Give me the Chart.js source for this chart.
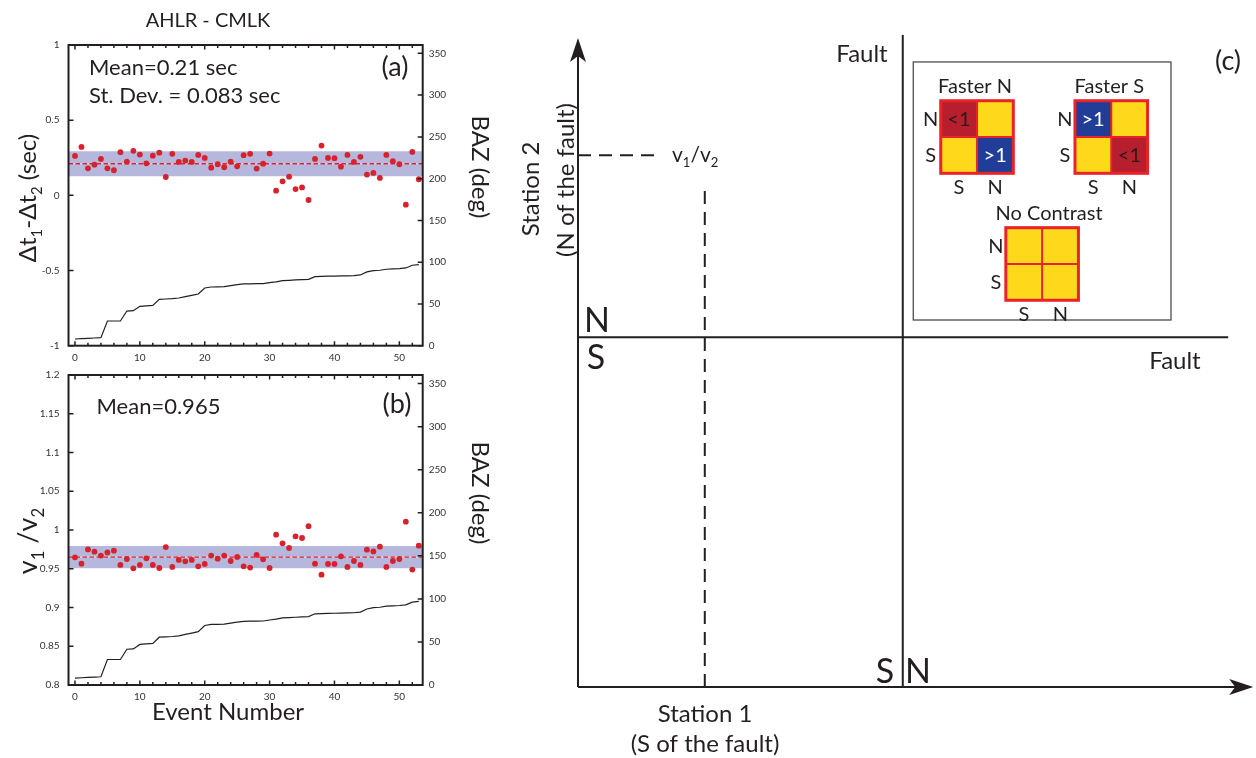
<!DOCTYPE html>
<html><head><meta charset="utf-8">
<script src="https://cdn.jsdelivr.net/npm/chart.js@4.4.1/dist/chart.umd.min.js"></script>
<style>
html,body{margin:0;padding:0;background:#fff;width:1256px;height:758px;overflow:hidden;}
canvas{position:absolute;}
#ca{left:0;top:0;}
#cb{left:0;top:360px;}
#cc{left:500px;top:0;}
</style></head><body>
<canvas id="cc" width="756" height="758"></canvas>
<canvas id="ca" width="560" height="370"></canvas>
<canvas id="cb" width="560" height="398"></canvas>
<script>
// ---------------- data ----------------
const eventNumbers = [0,1,2,3,4,5,6,7,8,9,10,11,12,13,14,15,16,17,18,19,20,21,22,23,24,25,26,
  27,28,29,30,31,32,33,34,35,36,37,38,39,40,41,42,43,44,45,46,47,48,49,50,51,52,53];
const dtDiff = [0.262,0.322,0.180,0.204,0.242,0.180,0.167,0.287,0.224,0.296,
  0.271,0.213,0.264,0.284,0.122,0.276,0.222,0.231,0.222,0.269,
  0.249,0.184,0.207,0.187,0.224,0.193,0.267,0.276,0.178,0.211,
  0.278,0.031,0.093,0.124,0.042,0.053,-0.031,0.242,0.331,0.249,
  0.247,0.191,0.269,0.222,0.256,0.138,0.149,0.116,0.269,0.227,
  0.207,-0.062,0.289,0.107];
const velRatio = [0.9647,0.9566,0.975,0.972,0.967,0.971,0.9733,0.955,0.9626,0.9506,
  0.955,0.9634,0.955,0.951,0.978,0.9523,0.9614,0.9596,0.9614,0.9531,
  0.9562,0.967,0.963,0.967,0.960,0.9652,0.9531,0.9515,0.968,0.9622,
  0.951,0.994,0.9828,0.9768,0.9918,0.9897,1.005,0.9566,0.9424,0.9562,
  0.9562,0.966,0.9523,0.960,0.955,0.9746,0.9724,0.9785,0.9523,0.960,
  0.9626,1.0107,0.9489,0.9798];
const baz = [8.0,8.4,8.8,9.2,9.6,29.6,29.6,29.6,41.5,41.9,
  47.1,47.7,48.3,55.5,55.9,56.3,57.1,58.7,60.3,61.9,
  69.1,70.3,70.5,70.7,71.9,73.1,73.9,74.1,74.2,74.3,
  75.5,76.5,77.9,78.3,78.7,79.1,79.5,82.7,83.0,83.2,
  83.3,83.5,83.7,83.9,84.7,88.3,89.9,90.3,91.5,91.9,
  92.3,93.1,96.3,97.1];
const dtStats = [0.21, 0.083];      // mean, st. dev.
const ratioStats = [0.965, 0.0145]; // mean, spread
const dtTicks = [-1, -0.5, 0, 0.5, 1];
const ratioTicks = [0.8, 0.85, 0.9, 0.95, 1, 1.05, 1.1, 1.15, 1.2];
const bazTicks = [0, 50, 100, 150, 200, 250, 300, 350];
const eventTicks = [0, 10, 20, 30, 40, 50];
const eventMinorTicks = [0,2,4,6,8,10,12,14,16,18,20,22,24,26,28,30,32,34,36,38,40,42,44,46,48,50,52];

// diagram (panel c) in schematic units
const station1Axis = [[0,0],[99.0,0]];
const station2Axis = [[0,0],[0,93.9]];
const faultVertical = [[47.9,0],[47.9,94.9]];
const faultHorizontal = [[0,50.9],[95.9,50.9]];
const ratioGuideH = [[0,77.4],[12.1,77.4]];
const ratioGuideV = [[18.7,0],[18.7,73.1]];
const fasterN = [['lt','eq'],['eq','gt']];
const fasterS = [['gt','eq'],['eq','lt']];
const noContrast = [['eq','eq'],['eq','eq']];

// ---------------- helpers ----------------
Chart.defaults.font.family = 'Lato, "Open Sans", sans-serif';
const INK = '#231f20';
function drawRich(ctx, parts, x, y, size, align, rot, color) {
  ctx.save();
  ctx.translate(x, y); ctx.rotate(rot || 0);
  ctx.fillStyle = color || INK; ctx.textBaseline = 'alphabetic'; ctx.textAlign = 'left';
  const sub = size * 0.62;
  let total = 0;
  const ws = parts.map(p => { ctx.font = (p.s ? sub : size) + 'px Lato, "Open Sans", sans-serif'; const w = ctx.measureText(p.t).width; total += w; return w; });
  let cx = align === 'center' ? -total / 2 : (align === 'right' ? -total : 0);
  parts.forEach((p, i) => { ctx.font = (p.s ? sub : size) + 'px Lato, "Open Sans", sans-serif'; ctx.fillText(p.t, cx, p.s ? size * 0.26 : 0); cx += ws[i]; });
  ctx.restore();
}
function textPlugin(items, ox, oy) {
  return { id: 'txt', afterDraw(chart) {
    const ctx = chart.ctx;
    items.forEach(it => drawRich(ctx, it.p || [{t: it.t}], it.x - ox, it.y - oy, it.size, it.align || 'left', it.rot || 0, it.color));
  }};
}
const framePlugin = {
  id: 'frame',
  afterDraw(chart) {
    const {ctx, chartArea: a, scales: {x, y, y2}} = chart;
    ctx.save();
    ctx.strokeStyle = INK; ctx.lineWidth = 1.5;
    ctx.beginPath();
    x.ticks.forEach(t => {
      const v = t.value;
      const px = x.getPixelForValue(v);
      const L = eventTicks.includes(v) ? 4.5 : 3;
      ctx.moveTo(px, a.bottom); ctx.lineTo(px, a.bottom - L);
      ctx.moveTo(px, a.top); ctx.lineTo(px, a.top + L);
    });
    y.ticks.forEach(t => { const py = y.getPixelForValue(t.value); ctx.moveTo(a.left, py); ctx.lineTo(a.left + 5, py); });
    y2.ticks.forEach(t => { const py = y2.getPixelForValue(t.value); ctx.moveTo(a.right, py); ctx.lineTo(a.right - 5, py); });
    ctx.stroke();
    ctx.lineWidth = 2;
    ctx.strokeRect(a.left, a.top, a.right - a.left, a.bottom - a.top);
    ctx.restore();
  }
};
const fmt = v => String(+(+v).toFixed(2));
const setTicks = list => (s => { s.ticks = list.map(v => ({value: v})); });

function makePanel(id, values, stats, yMin, yMax, yTicks, padTop, xH, texts, oy) {
  const [mean, sd] = stats;
  const span = d => [{x: -1, y: d}, {x: 54, y: d}];
  new Chart(document.getElementById(id), {
    type: 'scatter',
    data: { datasets: [
      { data: span(mean + sd), showLine: true, borderWidth: 0, borderColor: 'rgba(0,0,0,0)', pointRadius: 0, fill: '+1', backgroundColor: '#b5b7dd', order: 6 },
      { data: span(mean - sd), showLine: true, borderWidth: 0, borderColor: 'rgba(0,0,0,0)', pointRadius: 0, fill: false, order: 7 },
      { data: span(mean), showLine: true, borderWidth: 1, borderColor: '#dcdcf0', pointRadius: 0, order: 5 },
      { data: span(mean), showLine: true, borderWidth: 1.4, borderColor: '#e3202b', borderDash: [4.5, 2.5], pointRadius: 0, order: 4 },
      { data: eventNumbers.map((e, i) => ({x: e, y: baz[i]})), yAxisID: 'y2', showLine: true, borderColor: INK, borderWidth: 1.2, pointRadius: 0, order: 3 },
      { data: eventNumbers.map((e, i) => ({x: e, y: values[i]})), pointRadius: 2.9, pointBackgroundColor: '#d7222b', pointBorderWidth: 0, order: 1 }
    ]},
    options: {
      responsive: false, animation: false, events: [],
      layout: { padding: { top: padTop, left: 0, right: 0, bottom: 0 } },
      plugins: { legend: { display: false }, tooltip: { enabled: false } },
      scales: {
        x: { type: 'linear', position: 'bottom', min: -1, max: 53.6,
          afterFit(s) { s.height = xH; },
          afterBuildTicks: setTicks(eventMinorTicks),
          grid: { display: false, drawTicks: false }, border: { display: false },
          ticks: { autoSkip: false, maxRotation: 0, minRotation: 0, padding: 6,
            font: { size: 10 }, color: '#333',
            callback: v => eventTicks.includes(v) ? String(v) : '' } },
        y: { type: 'linear', position: 'left', min: yMin, max: yMax,
          afterFit(s) { s.width = 68.5; },
          afterBuildTicks: setTicks(yTicks),
          grid: { display: false, drawTicks: false }, border: { display: false },
          ticks: { autoSkip: false, padding: 9, font: { size: 10 }, color: '#333', callback: v => fmt(v) } },
        y2: { type: 'linear', position: 'right', min: 0, max: 360,
          afterFit(s) { s.width = 137.3; },
          afterBuildTicks: setTicks(bazTicks),
          grid: { display: false, drawTicks: false }, border: { display: false },
          ticks: { autoSkip: false, padding: 6, font: { size: 10 }, color: '#333', callback: v => String(v) } }
      }
    },
    plugins: [framePlugin, textPlugin(texts, 0, oy)]
  });
}

makePanel('ca', dtDiff, dtStats, -1, 1, dtTicks, 45, 24.3, [
  {t: 'AHLR - CMLK', x: 208, y: 27, size: 20, align: 'center'},
  {t: 'Mean=0.21 sec', x: 89, y: 75, size: 22},
  {t: 'St. Dev. = 0.083 sec', x: 89, y: 103, size: 22},
  {t: '(a)', x: 395, y: 76, size: 27, align: 'center'},
  {p: [{t: 'Δt'}, {t: '1', s: 1}, {t: '-Δt'}, {t: '2', s: 1}, {t: ' (sec)'}], x: 36, y: 198, size: 24, align: 'center', rot: -Math.PI / 2},
  {t: 'BAZ (deg)', x: 471.5, y: 167, size: 24, align: 'center', rot: Math.PI / 2}
], 0);

makePanel('cb', velRatio, ratioStats, 0.8, 1.2, ratioTicks, 13.3, 73, [
  {t: 'Mean=0.965', x: 96.5, y: 414, size: 22},
  {t: '(b)', x: 397, y: 413, size: 27, align: 'center'},
  {p: [{t: 'v'}, {t: '1', s: 1}, {t: ' /v'}, {t: '2', s: 1}], x: 37, y: 541, size: 27, align: 'center', rot: -Math.PI / 2},
  {t: 'BAZ (deg)', x: 471.5, y: 493, size: 24, align: 'center', rot: Math.PI / 2},
  {t: 'Event Number', x: 228, y: 720, size: 24, align: 'center'}
], 360);

// ---------------- panel (c) ----------------
const cellColor = {lt: '#b71f2e', gt: '#203d97', eq: '#fdd81b'};
const cellText = {lt: '<1', gt: '>1', eq: ''};
const cellInk = {lt: '#2a1a1a', gt: '#ffffff', eq: INK};
const diagramPlugin = {
  id: 'diagram',
  afterDatasetsDraw(chart) {
    const {ctx, scales: {x, y}} = chart;
    const X = v => x.getPixelForValue(v), Y = v => y.getPixelForValue(v);
    ctx.save();
    ctx.fillStyle = INK;
    // arrowheads
    const up = station2Axis[1], rt = station1Axis[1];
    let tx = X(up[0]), ty = Y(up[1]);
    ctx.beginPath(); ctx.moveTo(tx, ty - 4); ctx.lineTo(tx + 8, ty + 20); ctx.lineTo(tx, ty + 14); ctx.lineTo(tx - 8, ty + 20); ctx.closePath(); ctx.fill();
    tx = X(rt[0]); ty = Y(rt[1]);
    ctx.beginPath(); ctx.moveTo(tx + 4, ty); ctx.lineTo(tx - 20, ty - 8); ctx.lineTo(tx - 14, ty); ctx.lineTo(tx - 20, ty + 8); ctx.closePath(); ctx.fill();
    // inset box
    ctx.strokeStyle = '#4d4d4f'; ctx.lineWidth = 1.3;
    const bx0 = X(49.45), bx1 = X(87.46), by0 = Y(90.98), by1 = Y(53.42);
    ctx.strokeRect(bx0, by0, bx1 - bx0, by1 - by0);
    const grids = [[fasterN, 53.5, 85.34, 'Faster N'], [fasterS, 73.3, 85.34, 'Faster S'], [noContrast, 63.1, 66.86, 'No Contrast']];
    const c = 36.3;
    grids.forEach(([cells, gx, gy, title], gi) => {
      const px = X(gx), py = Y(gy);
      cells.forEach((row, r) => row.forEach((k, ci) => {
        ctx.fillStyle = cellColor[k];
        ctx.fillRect(px + ci * c, py + r * c, c, c);
        if (cellText[k]) drawRich(ctx, [{t: cellText[k]}], px + ci * c + c / 2, py + r * c + c / 2 + 7, 20, 'center', 0, cellInk[k]);
      }));
      ctx.strokeStyle = '#ec2229';
      ctx.lineWidth = 2;
      ctx.beginPath(); ctx.moveTo(px + c, py); ctx.lineTo(px + c, py + 2 * c); ctx.moveTo(px, py + c); ctx.lineTo(px + 2 * c, py + c); ctx.stroke();
      ctx.lineWidth = 3;
      ctx.strokeRect(px, py, 2 * c, 2 * c);
      drawRich(ctx, [{t: title}], px + c + (gi === 2 ? 7 : -2), py - 8, 20, 'center', 0, INK);
      drawRich(ctx, [{t: 'N'}], px - 10, py + c / 2 + 7, 20, 'center', 0, INK);
      drawRich(ctx, [{t: 'S'}], px - 10, py + 1.5 * c + 7, 20, 'center', 0, INK);
      drawRich(ctx, [{t: 'S'}], px + c / 2, py + 2 * c + 21, 20, 'center', 0, INK);
      drawRich(ctx, [{t: 'N'}], px + 1.5 * c, py + 2 * c + 21, 20, 'center', 0, INK);
    });
    ctx.restore();
  }
};
const lineDS = (pts, dash) => ({ data: pts.map(([a, b]) => ({x: a, y: b})), showLine: true, borderColor: INK, borderWidth: 2,
  borderDash: dash || [], pointRadius: 0, fill: false, clip: false, tension: 0 });
new Chart(document.getElementById('cc'), {
  type: 'scatter',
  data: { datasets: [
    lineDS(station1Axis), lineDS(station2Axis), lineDS(faultVertical), lineDS(faultHorizontal),
    lineDS(ratioGuideH, [13, 8]), lineDS(ratioGuideV, [13, 8])
  ]},
  options: {
    responsive: false, animation: false, events: [],
    layout: { padding: { left: 78, right: 0, top: 0, bottom: 71 } },
    plugins: { legend: { display: false }, tooltip: { enabled: false } },
    scales: { x: { type: 'linear', min: 0, max: 100, display: false }, y: { type: 'linear', min: 0, max: 100, display: false } }
  },
  plugins: [diagramPlugin, textPlugin([
    {t: 'Fault', x: 862, y: 62, size: 24, align: 'center'},
    {t: 'Fault', x: 1175, y: 369, size: 24, align: 'center'},
    {t: '(c)', x: 1228, y: 70, size: 27, align: 'center'},
    {t: 'N', x: 597, y: 332, size: 34, align: 'center'},
    {t: 'S', x: 596, y: 369, size: 34, align: 'center'},
    {t: 'S', x: 885, y: 683, size: 34, align: 'center'},
    {t: 'N', x: 918, y: 683, size: 34, align: 'center'},
    {t: 'Station 1', x: 705, y: 722, size: 24, align: 'center'},
    {t: '(S of the fault)', x: 705, y: 752, size: 24, align: 'center'},
    {t: 'Station 2', x: 539, y: 189, size: 24, align: 'center', rot: -Math.PI / 2},
    {t: '(N of the fault)', x: 574, y: 180, size: 24, align: 'center', rot: -Math.PI / 2},
    {p: [{t: 'v'}, {t: '1', s: 1}, {t: '/v'}, {t: '2', s: 1}], x: 672, y: 162, size: 21}
  ], 500, 0)]
});
</script>
</body></html>
